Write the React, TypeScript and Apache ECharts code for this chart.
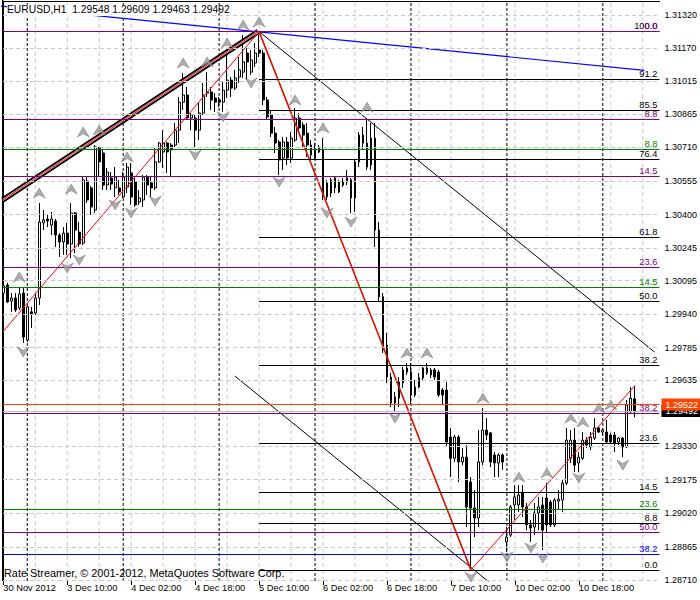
import React, { useEffect, useRef } from "react";
import * as echarts from "echarts";

const FONT = "'Liberation Sans',Arial,sans-serif";
const FS = 9.3;
const FS_AXIS = 9;
const FS_TITLE = 10.3;
const FS_COPY = 10.9;

// ---- axes ----
const X_MIN = -0.325;
const X_MAX = 164.175;
const Y_MIN = 1.287068;
const Y_MAX = 1.313864;

const yTickValues = [1.2871, 1.28865, 1.2902, 1.29175, 1.2933, 1.29635, 1.29785, 1.2994, 1.30095, 1.30245, 1.304, 1.30555, 1.3071, 1.30865, 1.31015, 1.3117, 1.3132];
const yGridValues = [...yTickValues, 1.2948];
const xTickIdx = [0, 16, 32, 48, 64, 80, 96, 112, 128, 144];
const xTickLabels = ["30 Nov 2012", "3 Dec 10:00", "4 Dec 02:00", "4 Dec 18:00", "5 Dec 10:00", "6 Dec 02:00", "6 Dec 18:00", "7 Dec 10:00", "10 Dec 02:00", "10 Dec 18:00"];
const hourGridIdx = [8, 16, 24, 32, 40, 48, 56, 64, 72, 80, 88, 96, 104, 112, 120, 128, 136, 144, 152, 160];
const daySepIdx = [6, 30, 54, 78, 102, 126, 150];

// ---- EURUSD H1 candles: [open, close, low, high] ----
const ohlc: number[][] = [
  [1.30037, 1.3007, 1.30024, 1.30144], [1.30074, 1.29996, 1.29991, 1.30084], [1.3, 1.30014, 1.2995, 1.30037], [1.30014, 1.29959, 1.2995, 1.30037],
  [1.29968, 1.30033, 1.29959, 1.30065], [1.30037, 1.29834, 1.29806, 1.30065], [1.2982, 1.29973, 1.29811, 1.29977], [1.2995, 1.2994, 1.29876, 1.29973],
  [1.29945, 1.30014, 1.29936, 1.30037], [1.30014, 1.30365, 1.29982, 1.30453], [1.30361, 1.30375, 1.30328, 1.30421], [1.30379, 1.3037, 1.30342, 1.30398],
  [1.30351, 1.30379, 1.30305, 1.30412], [1.3037, 1.30305, 1.3025, 1.30379], [1.30305, 1.30273, 1.30204, 1.30314], [1.30273, 1.30314, 1.30213, 1.30342],
  [1.30314, 1.30264, 1.30213, 1.30361], [1.30264, 1.30407, 1.30199, 1.30453], [1.30407, 1.30328, 1.30222, 1.30412], [1.30319, 1.30264, 1.3025, 1.30365],
  [1.30268, 1.3056, 1.30259, 1.30573], [1.30555, 1.30467, 1.30453, 1.30578], [1.30523, 1.30435, 1.30398, 1.30532], [1.30421, 1.30712, 1.30407, 1.30721],
  [1.30707, 1.30643, 1.30573, 1.30712], [1.30684, 1.30536, 1.30513, 1.30698], [1.30536, 1.30596, 1.30513, 1.30615], [1.30569, 1.30541, 1.30513, 1.30596],
  [1.30523, 1.30573, 1.30481, 1.30619], [1.30523, 1.30504, 1.3049, 1.3056], [1.30481, 1.30573, 1.30476, 1.30596], [1.30527, 1.30619, 1.30499, 1.30638],
  [1.30592, 1.30481, 1.30444, 1.30638], [1.3055, 1.30444, 1.30435, 1.30569], [1.30458, 1.30476, 1.30444, 1.30513], [1.30467, 1.30573, 1.30435, 1.30582],
  [1.30573, 1.30536, 1.3049, 1.30582], [1.30546, 1.30523, 1.30481, 1.30573], [1.30523, 1.30643, 1.30513, 1.30707], [1.30643, 1.3073, 1.30638, 1.30735],
  [1.30689, 1.3073, 1.30615, 1.3079], [1.3073, 1.30689, 1.30592, 1.30735], [1.30721, 1.30698, 1.30573, 1.3073], [1.30721, 1.3079, 1.30712, 1.30823],
  [1.3079, 1.30919, 1.3073, 1.30943], [1.30919, 1.30952, 1.30883, 1.31054], [1.30952, 1.30846, 1.30837, 1.30989], [1.30846, 1.3086, 1.3079, 1.30869],
  [1.30846, 1.3079, 1.30712, 1.3086], [1.3079, 1.30869, 1.30744, 1.30915], [1.30869, 1.30952, 1.3086, 1.31008], [1.30961, 1.30966, 1.30943, 1.31058],
  [1.30966, 1.30929, 1.30883, 1.30989], [1.30938, 1.30919, 1.30874, 1.30961], [1.30929, 1.30919, 1.30896, 1.30943], [1.30919, 1.30975, 1.30874, 1.31012],
  [1.30975, 1.31021, 1.30938, 1.31146], [1.31021, 1.30984, 1.30943, 1.31035], [1.30984, 1.31031, 1.30975, 1.31068], [1.31035, 1.31068, 1.31008, 1.31128],
  [1.31058, 1.31105, 1.31031, 1.31229], [1.31146, 1.31105, 1.31021, 1.31169], [1.31058, 1.31114, 1.31045, 1.3116], [1.311, 1.31146, 1.31081, 1.31192],
  [1.3116, 1.31146, 1.31128, 1.31246], [1.31146, 1.30929, 1.30906, 1.3116], [1.30929, 1.30851, 1.30837, 1.30943], [1.3086, 1.30776, 1.30758, 1.30883],
  [1.30776, 1.3073, 1.30684, 1.30804], [1.30735, 1.30652, 1.30582, 1.30744], [1.30661, 1.30735, 1.30606, 1.30758], [1.30735, 1.30661, 1.30629, 1.30758],
  [1.30661, 1.30753, 1.30638, 1.30781], [1.30744, 1.30846, 1.30735, 1.30892], [1.30846, 1.308, 1.30776, 1.30869], [1.30814, 1.30767, 1.30712, 1.30827],
  [1.30776, 1.30721, 1.30666, 1.30823], [1.30721, 1.30675, 1.30652, 1.30744], [1.30661, 1.30698, 1.30652, 1.3073], [1.30689, 1.30712, 1.30684, 1.30721],
  [1.30698, 1.30481, 1.30467, 1.30753], [1.30546, 1.30481, 1.30467, 1.3056], [1.30499, 1.3056, 1.30481, 1.30569], [1.30569, 1.30523, 1.30499, 1.30573],
  [1.30504, 1.3055, 1.30499, 1.3056], [1.30536, 1.3055, 1.30527, 1.30569], [1.3055, 1.30569, 1.30536, 1.30606], [1.3056, 1.30476, 1.30407, 1.30569],
  [1.30476, 1.30643, 1.30412, 1.30652], [1.30643, 1.30767, 1.30619, 1.30781], [1.30767, 1.3073, 1.30698, 1.30804], [1.30619, 1.3073, 1.30606, 1.30846],
  [1.30629, 1.30753, 1.30606, 1.30823], [1.30753, 1.30328, 1.3025, 1.30823], [1.30328, 1.3002, 1.29996, 1.30365], [1.3002, 1.29774, 1.2976, 1.30037],
  [1.29797, 1.29649, 1.29622, 1.29853], [1.29649, 1.29529, 1.29511, 1.29668], [1.29557, 1.29529, 1.29488, 1.2958], [1.29552, 1.29626, 1.29511, 1.29649],
  [1.29622, 1.29682, 1.29598, 1.29696], [1.29672, 1.29691, 1.29659, 1.29714], [1.29672, 1.29566, 1.2952, 1.29714], [1.29603, 1.29566, 1.29557, 1.29635],
  [1.29603, 1.29645, 1.29598, 1.29668], [1.29645, 1.29691, 1.29635, 1.29696], [1.29691, 1.29668, 1.29659, 1.29714], [1.29659, 1.29682, 1.29645, 1.29691],
  [1.29682, 1.29649, 1.29635, 1.29691], [1.29672, 1.29566, 1.29557, 1.29682], [1.29589, 1.29566, 1.2952, 1.29598], [1.29589, 1.29349, 1.29326, 1.29626],
  [1.29372, 1.29274, 1.29187, 1.29414], [1.29274, 1.29372, 1.29257, 1.29381], [1.29372, 1.29257, 1.29164, 1.29381], [1.29257, 1.29279, 1.29242, 1.29321],
  [1.29279, 1.29049, 1.28956, 1.29335], [1.29164, 1.29044, 1.28758, 1.29187], [1.29044, 1.28998, 1.2891, 1.29127], [1.28998, 1.29257, 1.28956, 1.29404],
  [1.29257, 1.29404, 1.29242, 1.29506], [1.29404, 1.29381, 1.29358, 1.2946], [1.29391, 1.29257, 1.29233, 1.29395], [1.29289, 1.29252, 1.29187, 1.29303],
  [1.29252, 1.29289, 1.29187, 1.29297], [1.29289, 1.29257, 1.2922, 1.29297], [1.28887, 1.2891, 1.28841, 1.28956], [1.28919, 1.29049, 1.2891, 1.29058],
  [1.29058, 1.29095, 1.28989, 1.2915], [1.29058, 1.29104, 1.29026, 1.2915], [1.29113, 1.29049, 1.29003, 1.2915], [1.29049, 1.28966, 1.28942, 1.29067],
  [1.28966, 1.28952, 1.28887, 1.28989], [1.28956, 1.29021, 1.28919, 1.29067], [1.29021, 1.29049, 1.28942, 1.29095], [1.29058, 1.28942, 1.2885, 1.29095],
  [1.2909, 1.28966, 1.28933, 1.29159], [1.29072, 1.28966, 1.28956, 1.29081], [1.28966, 1.29081, 1.28956, 1.2909], [1.29076, 1.29085, 1.29035, 1.29127],
  [1.29081, 1.29159, 1.29026, 1.29174], [1.29159, 1.29358, 1.2915, 1.29414], [1.29274, 1.29358, 1.29252, 1.29404], [1.29358, 1.29242, 1.2921, 1.29414],
  [1.29252, 1.29279, 1.2921, 1.29303], [1.29274, 1.29358, 1.29266, 1.29395], [1.29358, 1.29335, 1.29321, 1.29372], [1.29326, 1.29372, 1.29312, 1.29395],
  [1.29367, 1.29414, 1.29358, 1.2946], [1.29414, 1.29395, 1.29391, 1.29418], [1.29395, 1.29404, 1.29381, 1.29414], [1.29395, 1.29349, 1.29344, 1.29451],
  [1.29381, 1.29349, 1.29344, 1.29391], [1.29381, 1.29344, 1.29303, 1.29395], [1.29349, 1.29367, 1.29335, 1.29372], [1.29367, 1.29326, 1.29279, 1.29372],
  [1.29326, 1.2952, 1.29321, 1.29543], [1.29488, 1.29552, 1.29483, 1.29603], [1.29548, 1.29492, 1.29463, 1.29609],
];

// ---- fractals (bar index, arrow price) ----
const upFractalIdx = [4, 9, 17, 20, 24, 31, 45, 51, 56, 60, 64, 73, 80, 91, 101, 106, 120, 129, 136, 142, 145, 149, 152];
const upFractalPrice = [1.30111, 1.30499, 1.30518, 1.30781, 1.3079, 1.30666, 1.311, 1.31105, 1.31192, 1.31275, 1.31289, 1.30929, 1.308, 1.30896, 1.2976, 1.2976, 1.29552, 1.29187, 1.29206, 1.2946, 1.29441, 1.29506, 1.2952];
const downFractalIdx = [5, 16, 19, 28, 32, 38, 48, 55, 62, 69, 81, 87, 98, 117, 126, 132, 135, 144, 155];
const downFractalPrice = [1.29765, 1.30153, 1.3019, 1.30444, 1.30407, 1.30462, 1.30675, 1.30851, 1.31008, 1.3055, 1.30407, 1.30365, 1.2946, 1.28725, 1.28818, 1.28859, 1.28813, 1.29183, 1.29242];

// ---- horizontal levels ----
const blackFibStart = 64;
const blackFibLabels = ["100.0", "91.2", "85.5", "76.4", "61.8", "50.0", "38.2", "23.6", "14.5", "8.8", "0.0"];
const blackFibPrices = [1.31246, 1.31025, 1.30881, 1.30655, 1.30295, 1.29999, 1.29703, 1.29343, 1.29117, 1.28973, 1.28756];
const purpleFibLabels = ["0.0", "8.8", "14.5", "23.6", "38.2", "50.0"];
const purpleFibPrices = [1.31246, 1.3084, 1.30577, 1.30156, 1.29482, 1.28932];
const greenFibLabels = ["8.8", "14.5", "23.6"];
const greenFibPrices = [1.30701, 1.30064, 1.29038];
const blueFibLabels = ["38.2"];
const blueFibPrices = [1.2883];
const askPrice = 1.29522;
const bidPrice = 1.29492;

// ---- trend lines ([bar index, price]) ----
const thickTrend = [[-0.15, 1.30467], [63.75, 1.31245]];
const redRise = [[-0.15, 1.29857], [64, 1.31245]];
const zigDown = [[64, 1.31245], [117, 1.28758]];
const zigUp = [[117, 1.28758], [158, 1.29609]];
const channelUpper = [[64, 1.31245], [162.9, 1.29765]];
const channelLower = [[57.9, 1.29654], [123, 1.2868]];
const blueTrend = [[-0.825, 1.31363], [160.4, 1.31066]];

const titleText = "EURUSD,H1  1.29548 1.29609 1.29463 1.29492";
const copyrightText = "Rate Streamer, \u00a9 2001-2012, MetaQuotes Software Corp.";

const PURPLE = "#800080";
const GREEN = "#008000";
const BLUE = "#0000ff";
const ORANGE = "#ff4500";
const GRID_GRAY = "#c8c8c8";

function levelLabel(text: string, color: string) {
  return {
    show: true,
    position: "insideEndTop",
    formatter: text,
    color,
    fontSize: FS,
    fontFamily: FONT,
    distance: [2, 1],
  };
}

function buildOption() {
  const hGrid: any[] = yGridValues.map((v) => ({
    yAxis: v,
    lineStyle: { color: GRID_GRAY, type: [4, 3], width: 1 },
    label: { show: false },
  }));

  const vLine = (i: number, color: string, dash: number[]) => ({
    type: "line",
    data: [[i, Y_MIN], [i, Y_MAX]],
    z: 1,
    silent: true,
    symbol: "none",
    showSymbol: false,
    color,
    lineStyle: { color, width: 1, type: dash },
  });

  const levels: any[] = [];
  blackFibPrices.forEach((p, k) =>
    levels.push([
      { coord: [blackFibStart, p], lineStyle: { color: "#000", type: "solid", width: 1 }, label: levelLabel(blackFibLabels[k], "#000") },
      { coord: [X_MAX, p] },
    ])
  );
  const full = (prices: number[], labels: string[], color: string) =>
    prices.forEach((p, k) =>
      levels.push({ yAxis: p, lineStyle: { color, type: "solid", width: 1 }, label: levelLabel(labels[k], color) })
    );
  full(greenFibPrices, greenFibLabels, GREEN);
  full(blueFibPrices, blueFibLabels, BLUE);
  full(purpleFibPrices, purpleFibLabels, PURPLE);
  levels.push({
    yAxis: bidPrice,
    lineStyle: { color: "#c0c0c0", type: "solid", width: 1 },
    label: {
      show: true, position: "end", distance: 2, formatter: bidPrice.toFixed(5), color: "#fff",
      backgroundColor: "#000", padding: [2, 4, 1, 4], fontSize: FS_AXIS, fontFamily: FONT,
    },
  });
  levels.push({
    yAxis: askPrice,
    lineStyle: { color: ORANGE, type: "solid", width: 1 },
    label: {
      show: true, position: "end", distance: 2, formatter: askPrice.toFixed(5), color: "#fff",
      backgroundColor: ORANGE, padding: [2, 4, 1, 4], fontSize: FS_AXIS, fontFamily: FONT,
    },
  });

  const trend = (data: number[][], color: string, width: number, z: number, type: any = "solid") => ({
    type: "line",
    data,
    z,
    symbol: "none",
    silent: true,
    clip: true,
    color,
    lineStyle: { color, width, type },
  });

  return {
    animation: false,
    backgroundColor: "#fff",
    grid: { left: 2, top: 1, width: 658, height: 580, show: false },
    xAxis: {
      type: "value",
      min: X_MIN,
      max: X_MAX,
      axisLine: { show: false },
      splitLine: { show: false },
      minorSplitLine: { show: false },
      axisTick: { show: true, length: 4, lineStyle: { color: "#000" }, customValues: xTickIdx },
      axisLabel: {
        customValues: xTickIdx,
        formatter: (v: number) => xTickLabels[xTickIdx.indexOf(Math.round(v))] ?? "",
        align: "left",
        margin: 2,
        color: "#000",
        fontSize: FS,
        fontFamily: FONT,
      },
    },
    yAxis: {
      type: "value",
      position: "right",
      min: Y_MIN,
      max: Y_MAX,
      scale: true,
      axisLine: { show: true, lineStyle: { color: "#000", width: 1 } },
      splitLine: { show: false },
      axisTick: { show: true, length: 3, lineStyle: { color: "#000" }, customValues: yTickValues },
      axisLabel: {
        customValues: yTickValues,
        formatter: (v: number) => v.toFixed(5),
        margin: 5,
        color: "#000",
        fontSize: FS_AXIS,
        fontFamily: FONT,
      },
    },
    series: [
      {
        type: "line",
        data: [],
        z: 1,
        silent: true,
        markLine: { silent: true, precision: 6, symbol: ["none", "none"], animation: false, data: hGrid },
      },
      ...hourGridIdx.map((i) => vLine(i, GRID_GRAY, [4, 3])),
      ...daySepIdx.map((i) => vLine(i, "#000000", [3, 2])),
      {
        type: "candlestick",
        z: 2,
        silent: true,
        barWidth: 2.4,
        encode: { x: 0, y: [1, 2, 3, 4] },
        data: ohlc.map((d, i) => [i, d[0], d[1], d[2], d[3]]),
        itemStyle: { color: "#fff", color0: "#000", borderColor: "#000", borderColor0: "#000", borderWidth: 1 },
      },
      {
        type: "line",
        data: [],
        z: 3,
        silent: true,
        markLine: { silent: true, precision: 6, symbol: ["none", "none"], animation: false, data: levels },
      },
      trend(blueTrend, BLUE, 1.2, 4),
      trend(channelUpper, "#000", 1, 4),
      trend(channelLower, "#000", 1, 4),
      trend(thickTrend, "#000", 5.5, 4),
      trend(thickTrend, "#fff", 1.8, 4),
      trend(thickTrend, "#ff0000", 1, 4),
      trend(redRise, "#ff0000", 1, 4),
      trend(zigDown, "#ff0000", 1.6, 4),
      trend(zigDown, GREEN, 1, 4, [1, 3]),
      trend(zigUp, "#ff0000", 1, 4),
      {
        type: "scatter",
        z: 5,
        silent: true,
        symbol: "path://M5,0 L10,9 L5,6 L0,9 Z",
        symbolSize: [12, 10],
        itemStyle: { color: "#999999", borderColor: "#6e6e6e", borderWidth: 0.6 },
        data: upFractalIdx.map((i, k) => [i, upFractalPrice[k]]),
      },
      {
        type: "scatter",
        z: 5,
        silent: true,
        symbol: "path://M5,9 L10,0 L5,3 L0,0 Z",
        symbolSize: [12, 10],
        itemStyle: { color: "#999999", borderColor: "#6e6e6e", borderWidth: 0.6 },
        data: downFractalIdx.map((i, k) => [i, downFractalPrice[k]]),
      },
    ],
    graphic: [
      { type: "line", z: 19, silent: true, shape: { x1: 2.5, y1: 0, x2: 2.5, y2: 581 }, style: { stroke: "#000", lineWidth: 1 } },
      { type: "line", z: 19, silent: true, shape: { x1: 2, y1: 1.5, x2: 660, y2: 1.5 }, style: { stroke: "#000", lineWidth: 1 } },
      { type: "rect", z: 20, shape: { x: 7, y: 5, width: 203, height: 11 }, style: { fill: "#fff" } },
      { type: "text", z: 21, left: 7, top: 4, style: { text: titleText, fill: "#000", font: `${FS_TITLE}px ${FONT}` } },
      { type: "text", z: 21, left: 4, top: 567, style: { text: copyrightText, fill: "#000", font: `${FS_COPY}px ${FONT}` } },
    ],
  };
}

export default function App() {
  const ref = useRef<HTMLDivElement>(null);
  useEffect(() => {
    if (!ref.current) return;
    const chart = echarts.init(ref.current, null, { renderer: "svg" });
    chart.setOption(buildOption() as any);
    return () => chart.dispose();
  }, []);
  return <div ref={ref} style={{ position: "fixed", left: 0, top: 0, width: 700, height: 600, background: "#fff" }} />;
}
